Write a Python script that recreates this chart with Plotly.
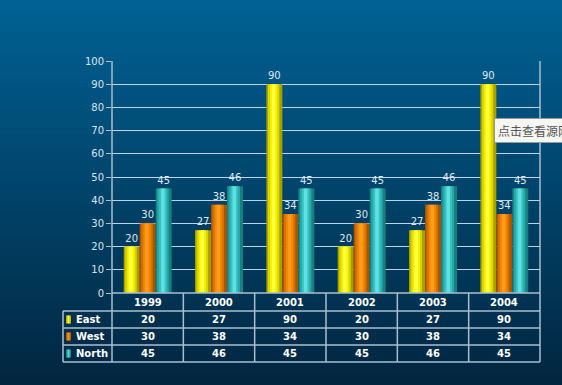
import plotly.graph_objects as go

# ---- data ----
years = ["1999", "2000", "2001", "2002", "2003", "2004"]
east = [20, 27, 90, 20, 27, 90]
west = [30, 38, 34, 30, 38, 34]
north = [45, 46, 45, 45, 46, 45]
series_names = ["East", "West", "North"]
series_values = [east, west, north]
y_ticks = [0, 10, 20, 30, 40, 50, 60, 70, 80, 90, 100]

# ---- styling ----
W, H = 562, 385
L, R, T, B = 112, 540, 61, 293  # plot area in px
PW, PH = R - L, B - T

def px_x(px):
    return (px - L) / PW

def px_y(py):
    return (B - py) / PH

# shaded colour ramps (edge -> centre) per series
ramps = [
    ["#a8a000", "#d8d400", "#f4f000", "#ffff40"],
    ["#a85400", "#d87000", "#f08800", "#ff9c20"],
    ["#18807f", "#28a8a8", "#38c4c4", "#60e0e0"],
]
bar_w = 0.224
offsets = [-0.336, -0.112, 0.112]
layer_frac = [1.0, 0.72, 0.46, 0.22]

fig = go.Figure()
for si, (name, vals) in enumerate(zip(series_names, series_values)):
    for li, frac in enumerate(layer_frac):
        w = bar_w * frac
        off = offsets[si] + (bar_w - w) / 2 - 0.01 * (li > 0)
        fig.add_trace(go.Bar(
            x=years, y=vals, name=name,
            width=w, offset=off,
            marker=dict(color=ramps[si][li], line=dict(width=0)),
            text=[str(v) for v in vals] if li == 0 else None,
            textposition="outside" if li == 0 else "none",
            textfont=dict(family="DejaVu Sans", size=10, color="#dfe9f2"),
            cliponaxis=False,
            showlegend=False, hoverinfo="skip",
        ))

shapes = []
# background gradient stripes
top_c = (0, 97, 148)
bot_c = (2, 38, 64)
n = 60
for i in range(n):
    t = i / (n - 1)
    c = tuple(int(round(top_c[k] + (bot_c[k] - top_c[k]) * t)) for k in range(3))
    y0 = i * H / n
    y1 = (i + 1) * H / n + 1
    shapes.append(dict(type="rect", xref="paper", yref="paper",
                       x0=px_x(-2), x1=px_x(W + 2), y0=px_y(y1), y1=px_y(y0),
                       fillcolor="rgb(%d,%d,%d)" % c, line=dict(width=0), layer="below"))

line_c = "#a9bfd0"
# table lines
rows_px = [293, 311, 328, 345, 362]
for i, ry in enumerate(rows_px):
    x0 = 63 if i >= 1 else L
    shapes.append(dict(type="line", xref="paper", yref="paper",
                       x0=px_x(x0), x1=px_x(R), y0=px_y(ry), y1=px_y(ry),
                       line=dict(color=line_c, width=1.5)))
# vertical lines
shapes.append(dict(type="line", xref="paper", yref="paper",
                   x0=px_x(63), x1=px_x(63), y0=px_y(311), y1=px_y(362),
                   line=dict(color=line_c, width=1.5)))
shapes.append(dict(type="line", xref="paper", yref="paper",
                   x0=px_x(L), x1=px_x(L), y0=px_y(T), y1=px_y(362),
                   line=dict(color=line_c, width=1.5)))
for k in range(1, 7):
    xx = L + PW * k / 6
    y_top = T if k == 6 else 293
    shapes.append(dict(type="line", xref="paper", yref="paper",
                       x0=px_x(xx), x1=px_x(xx), y0=px_y(y_top), y1=px_y(362),
                       line=dict(color=line_c, width=1.5)))

annotations = []
row_centers = [319.5, 336.5, 353.5]
sq_cols = [("#b8b000", "#ffff30"), ("#b86000", "#ff9010"), ("#208888", "#50d8d8")]
for ri, (name, vals) in enumerate(zip(series_names, series_values)):
    cy = row_centers[ri]
    shapes.append(dict(type="rect", xref="paper", yref="paper",
                       x0=px_x(66), x1=px_x(71), y0=px_y(cy + 4), y1=px_y(cy - 4),
                       fillcolor=sq_cols[ri][0], line=dict(width=0)))
    shapes.append(dict(type="rect", xref="paper", yref="paper",
                       x0=px_x(67.5), x1=px_x(69.5), y0=px_y(cy + 4), y1=px_y(cy - 4),
                       fillcolor=sq_cols[ri][1], line=dict(width=0)))
    annotations.append(dict(xref="paper", yref="paper", x=px_x(74), y=px_y(cy),
                            text="<b>%s</b>" % name, showarrow=False,
                            xanchor="left", yanchor="middle",
                            font=dict(family="DejaVu Sans", size=10, color="#ffffff")))
    for ci, v in enumerate(vals):
        annotations.append(dict(xref="x", yref="paper", x=ci, y=px_y(cy),
                                text="<b>%d</b>" % v, showarrow=False,
                                xanchor="center", yanchor="middle",
                                font=dict(family="DejaVu Sans", size=10, color="#ffffff")))
for ci, yr in enumerate(years):
    annotations.append(dict(xref="x", yref="paper", x=ci, y=px_y(302),
                            text="<b>%s</b>" % yr, showarrow=False,
                            xanchor="center", yanchor="middle",
                            font=dict(family="DejaVu Sans", size=10, color="#ffffff")))

# tooltip box partially off-screen
annotations.append(dict(xref="paper", yref="paper", x=px_x(494), y=px_y(130),
                        text="点击查看源网页", showarrow=False,
                        xanchor="left", yanchor="middle",
                        font=dict(family="Noto Sans CJK SC", size=12, color="#555555"),
                        bgcolor="#f6f6f2", bordercolor="#9a9a9a", borderwidth=1,
                        borderpad=3))

fig.update_layout(
    width=W, height=H,
    margin=dict(l=L, r=W - R, t=T, b=H - B, pad=0),
    paper_bgcolor="#03385c",
    plot_bgcolor="rgba(0,0,0,0)",
    barmode="overlay",
    showlegend=False,
    shapes=shapes,
    annotations=annotations,
    xaxis=dict(type="category", categoryorder="array", categoryarray=years,
               showticklabels=False, showgrid=False, zeroline=False,
               showline=False, ticks="", range=[-0.5, 5.5]),
    yaxis=dict(range=[0, 100], tickvals=y_ticks, showgrid=True,
               gridcolor="#bcd5e4", gridwidth=1, zeroline=False,
               showline=False, ticks="outside", ticklen=5,
               tickcolor=line_c, tickwidth=1,
               tickfont=dict(family="DejaVu Sans", size=10, color="#d8e5ef")),
)

fig.write_html("out.html", config={"displayModeBar": False},
               post_script="document.body.style.margin='0';document.body.style.overflow='hidden';")
